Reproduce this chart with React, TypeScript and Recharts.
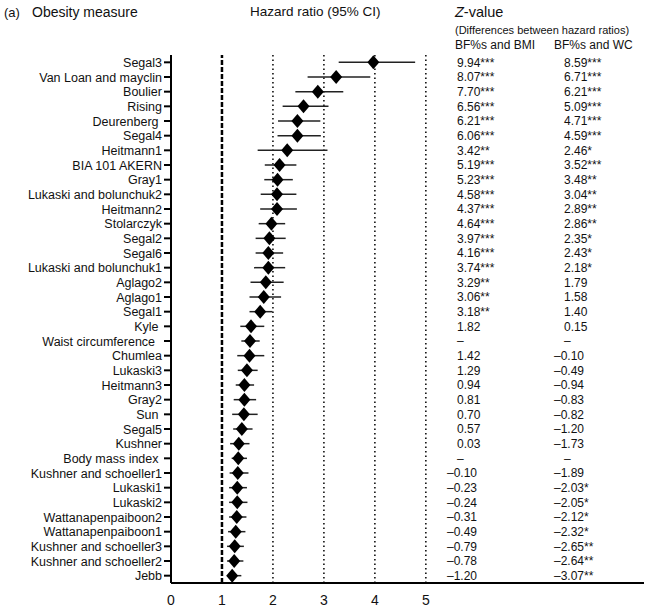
// Forest plot: hazard ratios (95% CI) per obesity measure + Z-value table
import { ScatterChart, Scatter, XAxis, YAxis, ErrorBar, ReferenceLine } from 'recharts'

const FONT = '"Liberation Sans", Arial, Helvetica, sans-serif'

const measures = [
  'Segal3', 'Van Loan and mayclin', 'Boulier', 'Rising', 'Deurenberg\u00a0', 'Segal4', 'Heitmann1',
  'BIA 101 AKERN', 'Gray1', 'Lukaski and bolunchuk2', 'Heitmann2', 'Stolarczyk', 'Segal2', 'Segal6',
  'Lukaski and bolunchuk1', 'Aglago2', 'Aglago1', 'Segal1', 'Kyle\u00a0', 'Waist circumference\u00a0\u00a0',
  'Chumlea', 'Lukaski3', 'Heitmann3', 'Gray2', 'Sun\u00a0', 'Segal5', 'Kushner', 'Body mass index\u00a0',
  'Kushner and schoeller1', 'Lukaski1', 'Lukaski2', 'Wattanapenpaiboon2', 'Wattanapenpaiboon1',
  'Kushner and schoeller3', 'Kushner and schoeller2', 'Jebb',
]

const hazard = [
  3.97, 3.24, 2.88, 2.6, 2.48, 2.48, 2.28, 2.13, 2.09, 2.08, 2.08, 1.97, 1.93, 1.91, 1.91, 1.86, 1.82, 1.75,
  1.57, 1.55, 1.54, 1.49, 1.44, 1.44, 1.43, 1.39, 1.33, 1.32, 1.31, 1.3, 1.3, 1.29, 1.27, 1.25, 1.24, 1.2,
]
const ciLow = [
  3.29, 2.68, 2.44, 2.19, 2.1, 2.09, 1.7, 1.84, 1.83, 1.76, 1.75, 1.72, 1.66, 1.66, 1.63, 1.56, 1.54, 1.54,
  1.36, 1.38, 1.3, 1.31, 1.27, 1.23, 1.2, 1.22, 1.16, 1.19, 1.15, 1.14, 1.14, 1.14, 1.12, 1.1, 1.1, 1.1,
]
const ciHigh = [
  4.79, 3.91, 3.38, 3.09, 2.93, 2.94, 3.07, 2.46, 2.39, 2.46, 2.47, 2.24, 2.25, 2.2, 2.24, 2.21, 2.16, 1.99,
  1.83, 1.74, 1.83, 1.7, 1.63, 1.67, 1.7, 1.6, 1.54, 1.49, 1.52, 1.49, 1.5, 1.48, 1.46, 1.43, 1.42, 1.38,
]

const zBmi = [
  '9.94***', '8.07***', '7.70***', '6.56***', '6.21***', '6.06***', '3.42**', '5.19***', '5.23***', '4.58***',
  '4.37***', '4.64***', '3.97***', '4.16***', '3.74***', '3.29**', '3.06**', '3.18**', '1.82', '–', '1.42',
  '1.29', '0.94', '0.81', '0.70', '0.57', '0.03', '–', '–0.10', '–0.23', '–0.24', '–0.31', '–0.49', '–0.79',
  '–0.78', '–1.20',
]
const zWc = [
  '8.59***', '6.71***', '6.21***', '5.09***', '4.71***', '4.59***', '2.46*', '3.52***', '3.48**', '3.04**',
  '2.89**', '2.86**', '2.35*', '2.43*', '2.18*', '1.79', '1.58', '1.40', '0.15', '–', '–0.10', '–0.49',
  '–0.94', '–0.83', '–0.82', '–1.20', '–1.73', '–', '–1.89', '–2.03*', '–2.05*', '–2.12*', '–2.32*',
  '–2.65**', '–2.64**', '–3.07**',
]

const xTicks = [0, 1, 2, 3, 4, 5]
const dottedAt = [2, 3, 4, 5]

const rows = measures.map((name, i) => ({
  name,
  hr: hazard[i],
  err: [hazard[i] - ciLow[i], ciHigh[i] - hazard[i]],
}))

function Diamond({ cx, cy }: { cx?: number; cy?: number }) {
  if (cx == null || cy == null) return null
  return <polygon points={`${cx - 6},${cy} ${cx},${cy - 7} ${cx + 6},${cy} ${cx},${cy + 7}`} fill="#000" />
}

function zX(value: string, plain: number) {
  return value.startsWith('–') && value.length > 1 ? plain - 10 : plain
}

function RowTick({ x, y, payload }: { x?: number; y?: number; payload?: { index: number } }) {
  const i = payload?.index ?? 0
  return (
    <g fontFamily={FONT} fill="#111">
      <text x={x} y={y} dy="0.36em" textAnchor="end" fontSize={12.5}>{measures[i]}</text>
      <text x={zX(zBmi[i], 457)} y={y} dy="0.36em" fontSize={12}>{zBmi[i]}</text>
      <text x={zX(zWc[i], 564)} y={y} dy="0.36em" fontSize={12}>{zWc[i]}</text>
    </g>
  )
}

function Header({ x, y, size, children }: { x: number; y: number; size: number; children: React.ReactNode }) {
  return (
    <div style={{ position: 'absolute', left: x, top: y, fontSize: size, lineHeight: 1, whiteSpace: 'nowrap', color: '#111' }}>
      {children}
    </div>
  )
}

export default function App() {
  return (
    <div style={{ position: 'absolute', left: 0, top: 0, width: 651, height: 608, background: '#fff', fontFamily: FONT }}>
      <Header x={4} y={6} size={13}>(a)</Header>
      <Header x={32} y={5} size={14}>Obesity measure</Header>
      <Header x={250} y={5} size={13.5}>Hazard ratio (95% CI)</Header>
      <Header x={455} y={5} size={14.5}><i>Z</i>-value</Header>
      <Header x={455} y={25} size={11}>(Differences between hazard ratios)</Header>
      <Header x={455} y={39} size={12}>BF%s and BMI</Header>
      <Header x={554} y={39} size={12}>BF%s and WC</Header>

      <ScatterChart width={651} height={608} margin={{ top: 55, right: 7, bottom: 0, left: 0 }}>
        <XAxis
          type="number"
          dataKey="hr"
          domain={[0, 9.28]}
          ticks={xTicks}
          allowDataOverflow
          height={25}
          axisLine={{ stroke: '#000', strokeWidth: 2 }}
          tickLine={false}
          tickMargin={6}
          tick={{ fontSize: 14, fill: '#111', fontFamily: FONT }}
        />
        <YAxis
          type="category"
          dataKey="name"
          reversed
          width={171}
          interval={0}
          tickSize={7}
          axisLine={{ stroke: '#000', strokeWidth: 2 }}
          tickLine={{ stroke: '#000', strokeWidth: 2 }}
          tick={<RowTick />}
        />
        <ReferenceLine x={1} stroke="#000" strokeWidth={2.5} strokeDasharray="5 2" />
        {dottedAt.map((v) => (
          <ReferenceLine key={v} x={v} stroke="#000" strokeWidth={1.5} strokeDasharray="1.5 3" />
        ))}
        <Scatter data={rows} shape={<Diamond />} isAnimationActive={false}>
          <ErrorBar dataKey="err" direction="x" width={0} stroke="#222" strokeWidth={1.5} isAnimationActive={false} />
        </Scatter>
      </ScatterChart>
    </div>
  )
}
